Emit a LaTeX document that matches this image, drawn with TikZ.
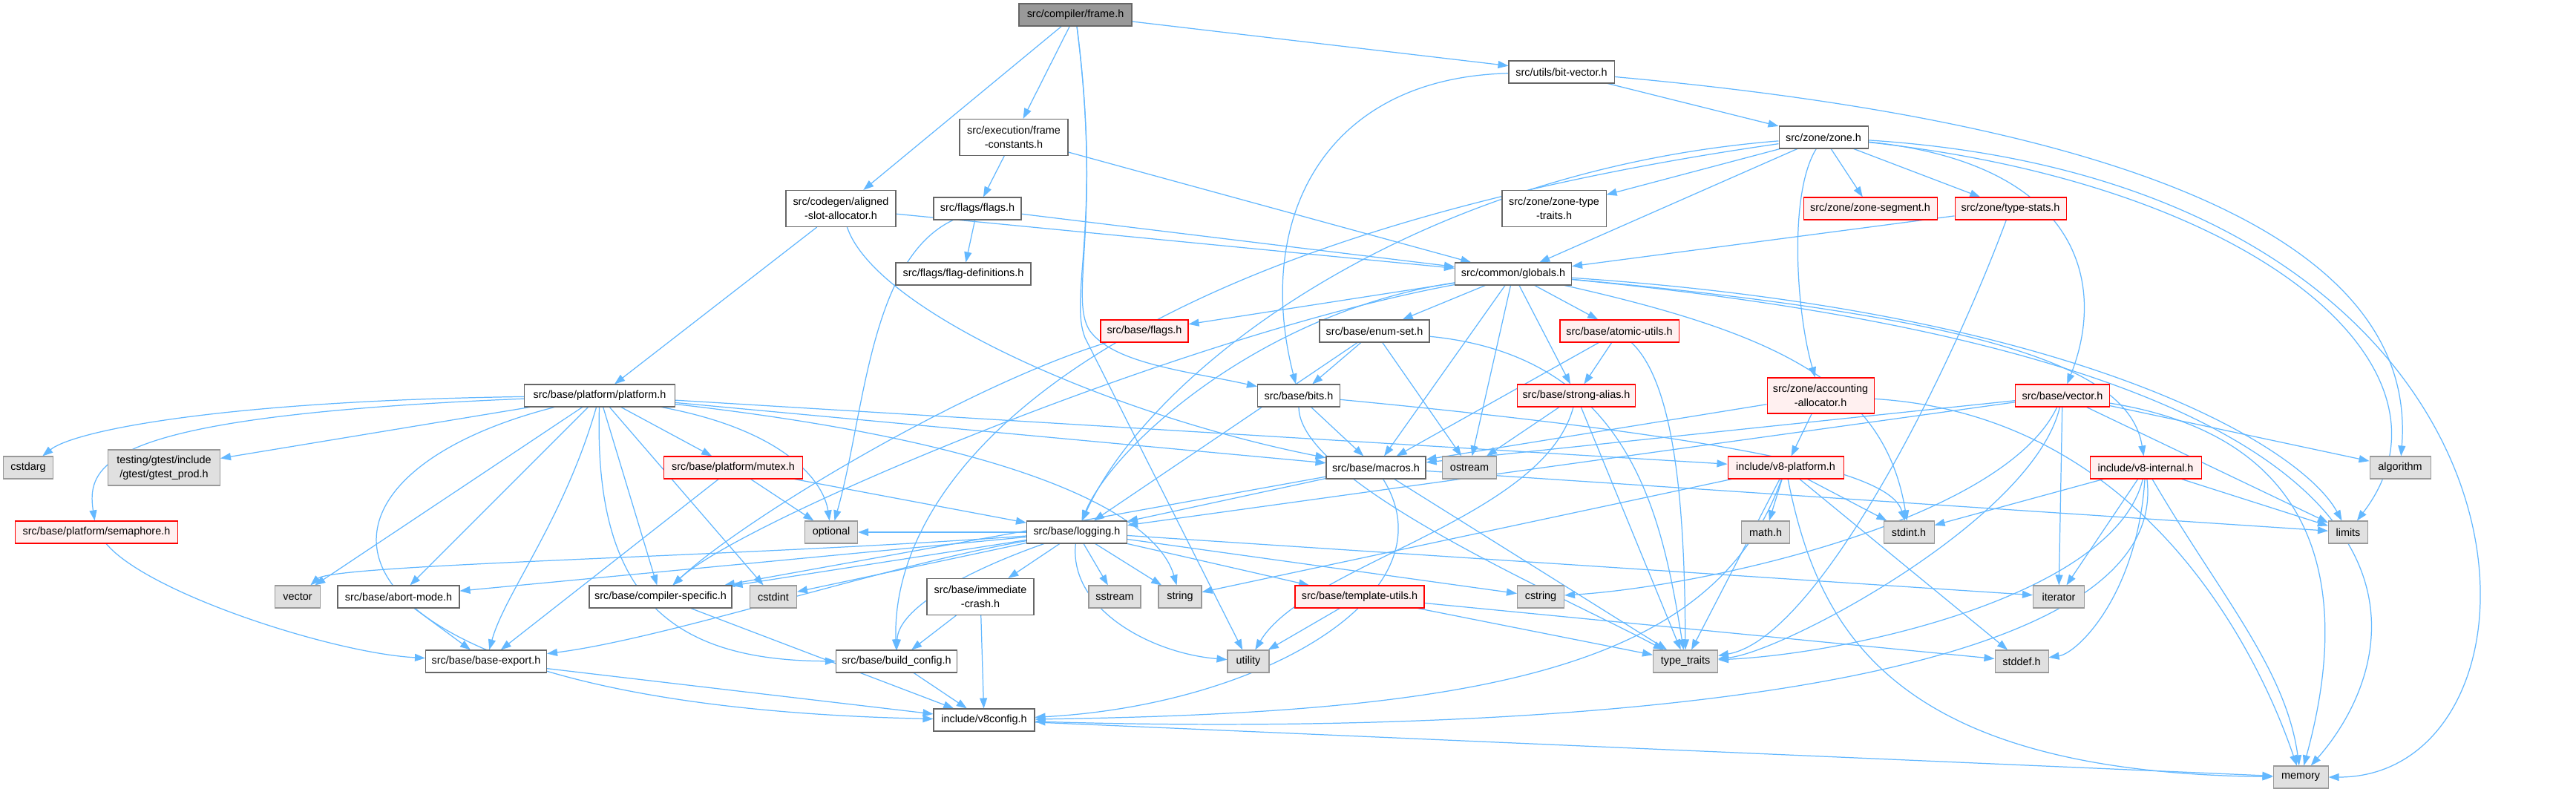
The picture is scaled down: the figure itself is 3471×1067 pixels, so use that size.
\documentclass[tikz,border=0pt]{standalone}
\usepackage{fontspec}
\setmainfont{Liberation Sans}
\usetikzlibrary{arrows.meta}
\definecolor{edgec}{HTML}{63B8FF}
\definecolor{stdb}{HTML}{666666}
\definecolor{sysb}{HTML}{999999}
\definecolor{sysf}{HTML}{E0E0E0}
\definecolor{redf}{HTML}{FFF0F0}
\definecolor{redb}{HTML}{FF0000}
\definecolor{rootf}{HTML}{999999}
\pgfdeclarelayer{paper}
\pgfdeclarelayer{bg}
\pgfsetlayers{paper,bg,main}
\begin{document}
\begin{tikzpicture}[x=0.2mm,y=-0.2mm,
  basebox/.style={rectangle,inner sep=0pt,line width=0.6pt,align=center,
    font=\fontsize{8.2}{10.8}\selectfont},
  stdbox/.style={basebox,draw=stdb,fill=white},
  sysbox/.style={basebox,draw=sysb,fill=sysf},
  redbox/.style={basebox,draw=redb,fill=redf},
  rootbox/.style={basebox,draw=stdb,fill=rootf},
  wh/.style 2 args={minimum width=#1*0.2mm,minimum height=#2*0.2mm},
  edge/.style={draw=edgec,line width=0.7pt,-{Triangle[length=2.8mm,width=2mm]}}]
\begin{pgfonlayer}{paper}
\fill[white] (0,0) rectangle (3471,1067);
\end{pgfonlayer}
\useasboundingbox (0,0) rectangle (3471,1067);

\node[rootbox,wh={152}{30}] (frame) at (1449,20) {src/compiler/frame.h};
\node[stdbox,wh={146}{49}] (fc) at (1366,185) {src/execution/frame\\-constants.h};
\node[stdbox,wh={148}{49}] (asa) at (1133,281) {src/codegen/aligned\\-slot-allocator.h};
\node[stdbox,wh={118}{30}] (fflags) at (1317,281) {src/flags/flags.h};
\node[stdbox,wh={182}{30}] (fdef) at (1298,369) {src/flags/flag-definitions.h};
\node[redbox,wh={118}{30}] (bflags) at (1542,446) {src/base/flags.h};
\node[stdbox,wh={142}{30}] (bv) at (2104,97) {src/utils/bit-vector.h};
\node[stdbox,wh={120}{30}] (zone) at (2457,185) {src/zone/zone.h};
\node[stdbox,wh={140}{49}] (ztt) at (2094,281) {src/zone/zone-type\\-traits.h};
\node[redbox,wh={180}{30}] (zseg) at (2520,281) {src/zone/zone-segment.h};
\node[redbox,wh={150}{30}] (tstats) at (2709,281) {src/zone/type-stats.h};
\node[stdbox,wh={157}{30}] (globals) at (2039,369) {src/common/globals.h};
\node[stdbox,wh={148}{30}] (enumset) at (1852,446) {src/base/enum-set.h};
\node[redbox,wh={160}{30}] (atomic) at (2182,446) {src/base/atomic-utils.h};
\node[stdbox,wh={111}{30}] (bits) at (1750,533) {src/base/bits.h};
\node[redbox,wh={159}{30}] (strong) at (2124,533) {src/base/strong-alias.h};
\node[redbox,wh={144}{48}] (acc) at (2453,533) {src/zone/accounting\\-allocator.h};
\node[redbox,wh={127}{30}] (vech) at (2779,533) {src/base/vector.h};
\node[stdbox,wh={203}{30}] (platform) at (808,533) {src/base/platform/platform.h};
\node[sysbox,wh={67}{30}] (cstdarg) at (38,630) {cstdarg};
\node[sysbox,wh={151}{48}] (gtest) at (221,630) {testing/gtest/include\\/gtest/gtest\_prod.h};
\node[redbox,wh={219}{30}] (sema) at (130,717) {src/base/platform/semaphore.h};
\node[redbox,wh={187}{30}] (mutex) at (988,630) {src/base/platform/mutex.h};
\node[stdbox,wh={134}{30}] (macros) at (1854,630) {src/base/macros.h};
\node[sysbox,wh={73}{30}] (ostream) at (1980,630) {ostream};
\node[redbox,wh={156}{30}] (v8plat) at (2406,630) {include/v8-platform.h};
\node[redbox,wh={150}{30}] (v8int) at (2891,630) {include/v8-internal.h};
\node[sysbox,wh={82}{30}] (algorithm) at (3234,630) {algorithm};
\node[sysbox,wh={71}{30}] (optional) at (1120,717) {optional};
\node[stdbox,wh={135}{30}] (logging) at (1451,717) {src/base/logging.h};
\node[sysbox,wh={65}{30}] (math) at (2379,717) {math.h};
\node[sysbox,wh={68}{30}] (stdint) at (2572,717) {stdint.h};
\node[sysbox,wh={53}{30}] (limits) at (3164,717) {limits};
\node[sysbox,wh={61}{30}] (vec) at (401,804) {vector};
\node[stdbox,wh={164}{30}] (abort) at (537,804) {src/base/abort-mode.h};
\node[stdbox,wh={192}{30}] (cspec) at (890,804) {src/base/compiler-specific.h};
\node[sysbox,wh={63}{30}] (cstdint) at (1042,804) {cstdint};
\node[stdbox,wh={144}{49}] (icrash) at (1321,804) {src/base/immediate\\-crash.h};
\node[sysbox,wh={70}{30}] (sstream) at (1502,804) {sstream};
\node[sysbox,wh={58}{30}] (string) at (1590,804) {string};
\node[redbox,wh={174}{30}] (tutils) at (1832,804) {src/base/template-utils.h};
\node[sysbox,wh={63}{30}] (cstring) at (2076,804) {cstring};
\node[sysbox,wh={69}{30}] (iterator) at (2774,804) {iterator};
\node[stdbox,wh={163}{30}] (bexport) at (655,891) {src/base/base-export.h};
\node[stdbox,wh={163}{30}] (bconfig) at (1208,891) {src/base/build\_config.h};
\node[sysbox,wh={56}{30}] (utility) at (1682,891) {utility};
\node[sysbox,wh={87}{30}] (tt) at (2271,891) {type\_traits};
\node[sysbox,wh={72}{30}] (stddef) at (2724,891) {stddef.h};
\node[stdbox,wh={136}{30}] (v8config) at (1326,970) {include/v8config.h};
\node[sysbox,wh={74}{30}] (memory) at (3100,1047) {memory};

\begin{pgfonlayer}{bg}
% frame.h
\draw[edge] (frame) -- (asa);
\draw[edge] (frame) -- (fc);
\draw[edge] (frame) -- (bv);
\draw[edge] (frame) .. controls (1485,300) and (1440,400) .. (1468,445)
  .. controls (1500,490) and (1600,500) .. (bits);
\draw[edge] (frame) .. controls (1485,300) and (1440,400) .. (1462,455) -- (utility);
% aligned-slot-allocator
\draw[edge] (asa) -- (platform);
\draw[edge] (asa) -- (globals);
\draw[edge] (asa) .. controls (1180,420) and (1500,560) .. (macros);
% frame-constants
\draw[edge] (fc) -- (fflags);
\draw[edge] (fc) -- (globals);
% flags.h
\draw[edge] (fflags) -- (fdef);
\draw[edge] (fflags) .. controls (1171,350) and (1165,560) .. (optional);
\draw[edge] (fflags) -- (globals);
% bit-vector
\draw[edge] (bv) -- (zone);
\draw[edge] (bv) .. controls (1780,105) and (1690,300) .. (bits);
\draw[edge] (bv) .. controls (2800,160) and (3260,300) .. (algorithm);
% zone.h
\draw[edge] (zone) -- (ztt);
\draw[edge] (zone) -- (zseg);
\draw[edge] (zone) -- (tstats);
\draw[edge] (zone) -- (globals);
\draw[edge] (zone) .. controls (2410,260) and (2420,420) .. (acc);
\draw[edge] (zone) .. controls (2800,220) and (2840,380) .. (vech);
\draw[edge] (zone) .. controls (1900,230) and (1550,500) .. (logging);
\draw[edge] (zone) .. controls (1450,330) and (1200,650) .. (bconfig);
\draw[edge] (zone) .. controls (3050,250) and (3330,500) .. (limits);
\draw[edge] (zone) .. controls (3470,250) and (3470,1047) .. (memory);
% type-stats
\draw[edge] (tstats) -- (globals);
\draw[edge] (tstats) .. controls (2628,500) and (2450,860) .. (tt);
% globals.h
\draw[edge] (globals) -- (bflags);
\draw[edge] (globals) .. controls (1700,420) and (1500,600) .. (logging);
\draw[edge] (globals) .. controls (1600,450) and (1000,700) .. (cspec);
\draw[edge] (globals) -- (enumset);
\draw[edge] (globals) -- (atomic);
\draw[edge] (globals) -- (strong);
\draw[edge] (globals) -- (macros);
\draw[edge] (globals) -- (ostream);
\draw[edge] (globals) .. controls (2400,450) and (2540,520) .. (stdint);
\draw[edge] (globals) .. controls (2800,420) and (3100,600) .. (limits);
\draw[edge] (globals) .. controls (2700,430) and (2870,500) .. (v8int);
\draw[edge] (globals) .. controls (3400,500) and (3230,900) .. (memory);
% base/flags.h
\draw[edge] (bflags) .. controls (1300,520) and (1000,700) .. (cspec);
% enum-set
\draw[edge] (enumset) -- (bits);
\draw[edge] (enumset) -- (logging);
\draw[edge] (enumset) -- (ostream);
\draw[edge] (enumset) .. controls (2200,480) and (2240,700) .. (tt);
% atomic-utils
\draw[edge] (atomic) -- (strong);
\draw[edge] (atomic) -- (macros);
\draw[edge] (atomic) .. controls (2260,520) and (2270,700) .. (tt);
% strong-alias
\draw[edge] (strong) -- (ostream);
\draw[edge] (strong) -- (tt);
\draw[edge] (strong) .. controls (2080,700) and (1760,760) .. (utility);
% bits
\draw[edge] (bits) -- (macros);
\draw[edge] (bits) .. controls (1750,650) and (2100,800) .. (tt);
\draw[edge] (bits) .. controls (2450,600) and (2550,650) .. (stdint);
% accounting-allocator
\draw[edge] (acc) -- (macros);
\draw[edge] (acc) -- (v8plat);
\draw[edge] (acc) .. controls (2900,560) and (3050,900) .. (memory);
% vector.h
\draw[edge] (vech) -- (macros);
\draw[edge] (vech) -- (logging);
\draw[edge] (vech) .. controls (2700,700) and (2300,790) .. (cstring);
\draw[edge] (vech) -- (iterator);
\draw[edge] (vech) -- (algorithm);
\draw[edge] (vech) -- (limits);
\draw[edge] (vech) .. controls (3200,600) and (3140,900) .. (memory);
\draw[edge] (vech) .. controls (2740,700) and (2400,880) .. (tt);
% platform.h
\draw[edge] (platform) .. controls (300,540) and (100,580) .. (cstdarg);
\draw[edge] (platform) .. controls (150,560) and (115,620) .. (sema);
\draw[edge] (platform) -- (gtest);
\draw[edge] (platform) -- (vec);
\draw[edge] (platform) -- (abort);
\draw[edge] (platform) .. controls (760,700) and (680,800) .. (bexport);
\draw[edge] (platform) .. controls (350,650) and (400,950) .. (v8config);
\draw[edge] (platform) -- (cspec);
\draw[edge] (platform) -- (mutex);
\draw[edge] (platform) .. controls (1060,580) and (1110,650) .. (optional);
\draw[edge] (platform) -- (cstdint);
\draw[edge] (platform) .. controls (1400,600) and (1560,700) .. (string);
\draw[edge] (platform) -- (macros);
\draw[edge] (platform) -- (v8plat);
\draw[edge] (platform) .. controls (800,800) and (900,890) .. (bconfig);
% mutex
\draw[edge] (mutex) -- (optional);
\draw[edge] (mutex) -- (logging);
\draw[edge] (mutex) -- (bexport);
% semaphore / abort
\draw[edge] (sema) .. controls (200,800) and (450,880) .. (bexport);
\draw[edge] (abort) -- (bexport);
% logging
\draw[edge] (logging) -- (optional);
\draw[edge] (logging) .. controls (1000,750) and (450,760) .. (vec);
\draw[edge] (logging) -- (abort);
\draw[edge] (logging) .. controls (1200,760) and (900,860) .. (bexport);
\draw[edge] (logging) -- (cspec);
\draw[edge] (logging) -- (cstdint);
\draw[edge] (logging) -- (icrash);
\draw[edge] (logging) -- (sstream);
\draw[edge] (logging) -- (string);
\draw[edge] (logging) .. controls (1300,770) and (1210,820) .. (bconfig);
\draw[edge] (logging) .. controls (1440,820) and (1550,880) .. (utility);
\draw[edge] (logging) -- (tutils);
\draw[edge] (logging) -- (cstring);
\draw[edge] (logging) -- (iterator);
% lower nodes
\draw[edge] (cspec) -- (v8config);
\draw[edge] (icrash) -- (bconfig);
\draw[edge] (icrash) -- (v8config);
\draw[edge] (bexport) -- (v8config);
\draw[edge] (bconfig) -- (v8config);
% macros
\draw[edge] (macros) -- (cspec);
\draw[edge] (macros) -- (logging);
\draw[edge] (macros) -- (limits);
\draw[edge] (macros) -- (tt);
\draw[edge] (macros) .. controls (1960,800) and (1700,950) .. (v8config);
% template-utils
\draw[edge] (tutils) -- (utility);
\draw[edge] (tutils) -- (tt);
\draw[edge] (tutils) -- (stddef);
% v8-platform
\draw[edge] (v8plat) -- (math);
\draw[edge] (v8plat) -- (stdint);
\draw[edge] (v8plat) -- (string);
\draw[edge] (v8plat) -- (tt);
\draw[edge] (v8plat) -- (stddef);
\draw[edge] (v8plat) .. controls (2450,850) and (2550,1040) .. (memory);
\draw[edge] (v8plat) .. controls (2310,900) and (2000,960) .. (v8config);
% v8-internal
\draw[edge] (v8int) -- (stdint);
\draw[edge] (v8int) -- (iterator);
\draw[edge] (v8int) .. controls (2880,800) and (2800,880) .. (stddef);
\draw[edge] (v8int) .. controls (2990,800) and (3080,900) .. (memory);
\draw[edge] (v8int) -- (limits);
\draw[edge] (v8int) .. controls (2850,800) and (2500,880) .. (tt);
\draw[edge] (v8int) .. controls (2930,950) and (2000,990) .. (v8config);
% v8config
\draw[edge] (v8config) -- (memory);
\end{pgfonlayer}
\end{tikzpicture}
\end{document}
